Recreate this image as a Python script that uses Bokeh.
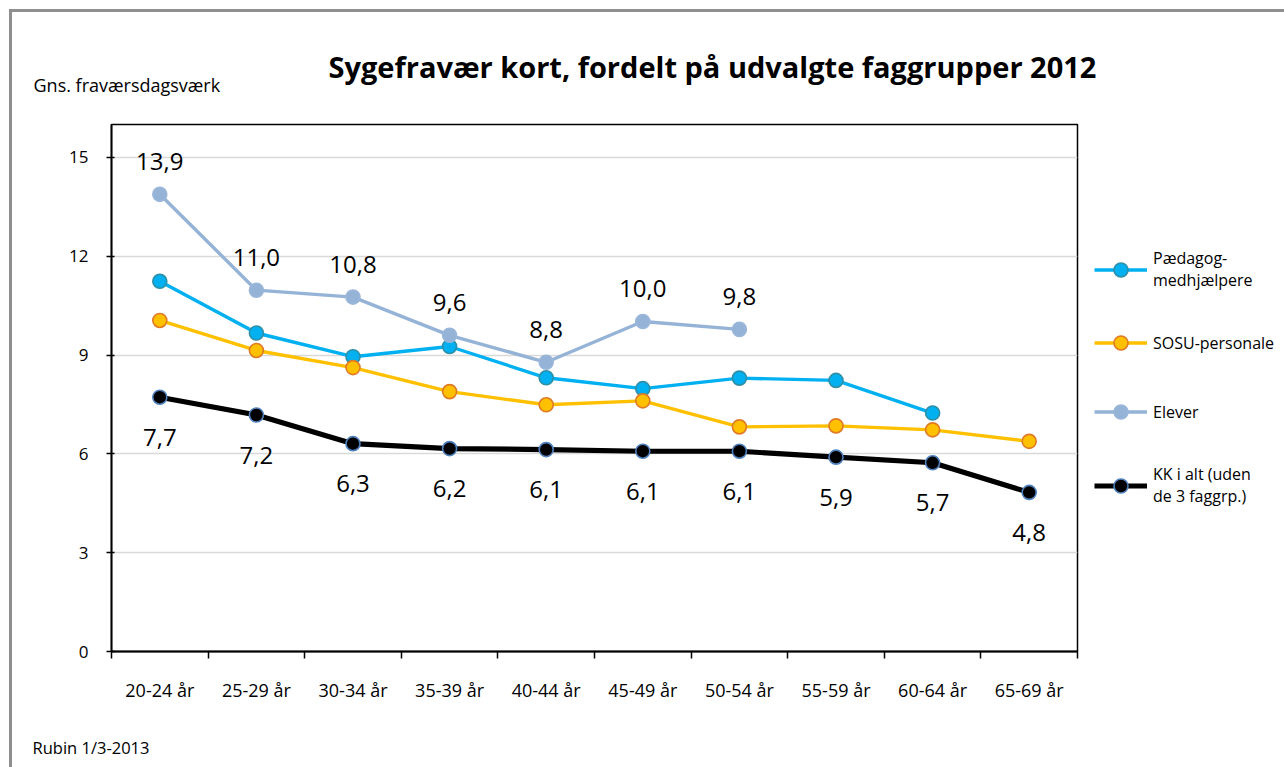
import math
from bokeh.plotting import figure
from bokeh.models import (Range1d, FixedTicker, Legend, LegendItem, Title,
                          ColumnDataSource)
from bokeh.embed import file_html
from bokeh.resources import INLINE
from bokeh.core.properties import value

NaN = float("nan")

categories = ["20-24 år", "25-29 år", "30-34 år", "35-39 år", "40-44 år",
              "45-49 år", "50-54 år", "55-59 år", "60-64 år", "65-69 år"]
paedagog = [11.24, 9.67, 8.95, 9.26, 8.31, 7.98, 8.30, 8.23, 7.24, NaN]
sosu = [10.05, 9.14, 8.62, 7.89, 7.49, 7.61, 6.82, 6.85, 6.73, 6.38]
elever = [13.88, 10.97, 10.76, 9.60, 8.78, 10.02, 9.78, NaN, NaN, NaN]
kk_i_alt = [7.72, 7.18, 6.31, 6.16, 6.13, 6.08, 6.08, 5.90, 5.73, 4.83]
y_ticks = [0, 3, 6, 9, 12, 15]

series_names = ["Pædagog-\nmedhjælpere", "SOSU-personale", "Elever",
                "KK i alt (uden\nde 3 faggrp.)"]

FONT = "Open Sans"

x_pos = [i + 0.5 for i in range(len(categories))]


def fmt(v):
    return f"{v:.1f}".replace(".", ",")


p = figure(width=1284, height=767, output_backend="svg", toolbar_location=None,
           x_range=Range1d(0, len(categories)), y_range=Range1d(0, 16),
           frame_width=966, frame_height=527,
           min_border_left=111, min_border_right=207,
           min_border_top=124, min_border_bottom=116)
p.background_fill_color = "white"
p.border_fill_color = None
p.outline_line_color = "black"
p.outline_line_width = 1.5
p.styles = {
    "background": ("linear-gradient(#8f8f8f,#8f8f8f) 9px 9px / 3px 100% no-repeat, "
                   "linear-gradient(#8f8f8f,#8f8f8f) 9px 9px / 100% 3px no-repeat, white"),
}

# axes
p.xaxis.ticker = FixedTicker(ticks=x_pos, minor_ticks=list(range(len(categories) + 1)))
p.xaxis.major_label_overrides = {x: c for x, c in zip(x_pos, categories)}
p.xaxis.major_tick_line_color = None
p.xaxis.major_tick_out = 0
p.xaxis.major_tick_in = 0
p.xaxis.minor_tick_out = 7
p.xaxis.minor_tick_in = 0
p.xaxis.minor_tick_line_color = "black"
p.xaxis.minor_tick_line_width = 1.5
p.xaxis.axis_line_color = "black"
p.xaxis.axis_line_width = 1.8
p.xaxis.major_label_standoff = 19
p.xaxis.major_label_text_font = FONT
p.xaxis.major_label_text_font_size = "18px"
p.xaxis.major_label_text_color = "black"

p.yaxis.ticker = FixedTicker(ticks=y_ticks, minor_ticks=[])
p.yaxis.major_tick_out = 5
p.yaxis.major_tick_in = 3
p.yaxis.major_tick_line_color = "black"
p.yaxis.major_tick_line_width = 1.5
p.yaxis.minor_tick_line_color = None
p.yaxis.axis_line_color = "black"
p.yaxis.axis_line_width = 1.8
p.yaxis.major_label_standoff = 18
p.yaxis.major_label_text_font = FONT
p.yaxis.major_label_text_font_size = "17px"
p.yaxis.major_label_text_color = "black"

p.xgrid.grid_line_color = None
p.ygrid.ticker = FixedTicker(ticks=y_ticks)
p.ygrid.grid_line_color = "#d9d9d9"
p.ygrid.grid_line_width = 1.5

styles = [
    dict(data=paedagog, line="#00b0f0", fill="#00b0f0", edge="#2f8fa6", lw=3.4),
    dict(data=sosu, line="#ffc000", fill="#ffc000", edge="#e07a26", lw=3.4),
    dict(data=elever, line="#95b3d7", fill="#95b3d7", edge="#9ab6d9", lw=3.4),
    dict(data=kk_i_alt, line="black", fill="black", edge="#4f81bd", lw=5.2),
]

items = []
for name, st in zip(series_names, styles):
    src = ColumnDataSource(dict(x=x_pos, y=st["data"]))
    r1 = p.line("x", "y", source=src, line_color=st["line"], line_width=st["lw"])
    r2 = p.scatter("x", "y", source=src, size=14, marker="circle",
                   fill_color=st["fill"], line_color=st["edge"], line_width=1.6)
    items.append(LegendItem(label=name, renderers=[r1, r2]))

# data labels
ev = [(x, v) for x, v in zip(x_pos, elever) if not math.isnan(v)]
src_e = ColumnDataSource(dict(x=[a for a, _ in ev], y=[b for _, b in ev],
                              t=[fmt(b) for _, b in ev]))
p.text("x", "y", text="t", source=src_e, y_offset=-33, text_align="center",
       text_baseline="middle", text_font=value(FONT), text_font_size="24px",
       text_color="black")
src_k = ColumnDataSource(dict(x=x_pos, y=kk_i_alt, t=[fmt(v) for v in kk_i_alt]))
p.text("x", "y", text="t", source=src_k, y_offset=40, text_align="center",
       text_baseline="middle", text_font=value(FONT), text_font_size="24px",
       text_color="black")

legend = Legend(items=items, location=(17, 144), orientation="vertical",
                glyph_width=53, glyph_height=35, label_standoff=6,
                label_text_font=FONT, label_text_font_size="16px",
                label_text_color="black", spacing=34, padding=0, margin=0,
                border_line_color=None, background_fill_alpha=0)
p.add_layout(legend, "right")

# texts in the side panels
p.add_layout(Title(text="Gns. fraværsdagsværk", align="left", offset=-78,
                   standoff=55, text_font=FONT, text_font_size="18px",
                   text_font_style="normal", text_color="black"), "above")
p.add_layout(Title(text="Sygefravær kort, fordelt på udvalgte faggrupper 2012",
                   align="left", offset=217, standoff=-84, text_font=FONT,
                   text_font_size="29px", text_font_style="bold",
                   text_color="black"), "above")
p.add_layout(Title(text="Rubin 1/3-2013", align="left", offset=-79,
                   standoff=58, text_font=FONT, text_font_size="16.5px",
                   text_font_style="normal", text_color="black"), "below")

open("out.html", "w").write(file_html(p, INLINE))
